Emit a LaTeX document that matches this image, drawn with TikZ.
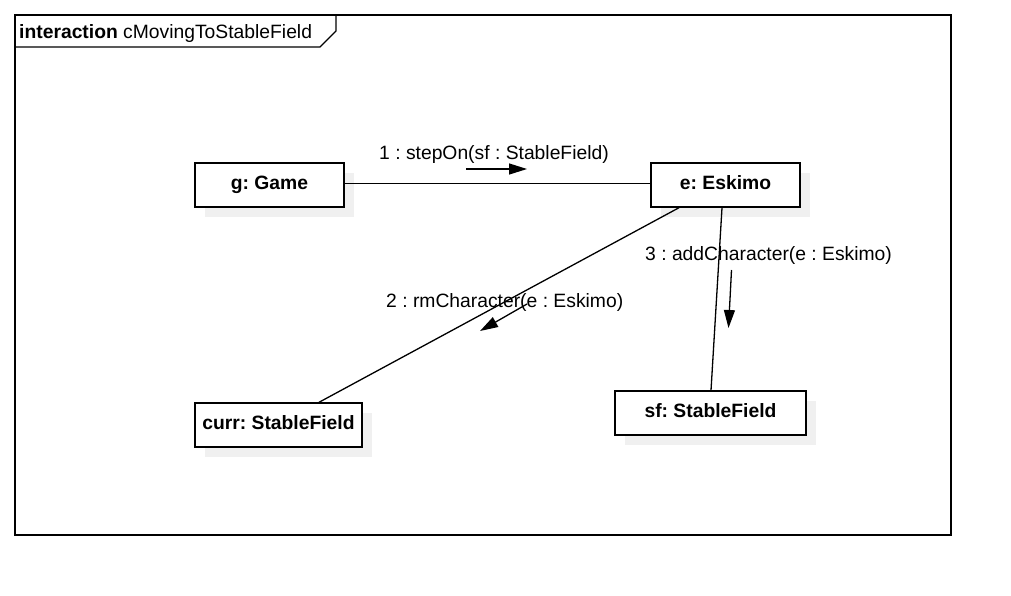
\documentclass[tikz,border=0pt]{standalone}
\usepackage{fontspec}
\setmainfont{Liberation Sans}
\usetikzlibrary{arrows.meta,calc}
\definecolor{shadowgray}{RGB}{240,240,240}
\frenchspacing
\begin{document}
\begin{tikzpicture}[x=1pt,y=-1pt,
  every node/.style={font=\fontsize{19.3}{22}\selectfont},
  obj/.style={draw=black,line width=1.4pt,fill=white,inner sep=0pt,
     font=\fontsize{19.3}{22}\selectfont\bfseries,text height=13.7pt,text depth=5pt},
  link/.style={line width=1.3pt},
  msg/.style={line width=1.3pt,-{Triangle[length=18pt,width=11pt]}},
  lbl/.style={anchor=base west,inner sep=0pt},
]
\useasboundingbox (0,0) rectangle (1011,595);
% frame
\draw[line width=1.4pt] (15,15) rectangle (951,535);
\draw[line width=1.4pt] (15,47) -- (320,47) -- (336,31) -- (336,15);
\node[lbl] (title) at (19,38.5) {\textbf{interaction} cMovingToStableField};
% shadows
\fill[shadowgray] (205,173) rectangle (354,217);
\fill[shadowgray] (661,173) rectangle (810,217);
\fill[shadowgray] (205,413) rectangle (372,457);
\fill[shadowgray] (625,401) rectangle (816,445);
% objects
\node[obj,minimum width=149pt,minimum height=44pt] (g) at (269.5,185) {g: Game};
\node[obj,minimum width=149pt,minimum height=44pt] (e) at (725.5,185) {e: Eskimo};
\node[obj,minimum width=167pt,minimum height=44pt] (curr) at (278.5,425) {curr: StableField};
\node[obj,minimum width=191pt,minimum height=44pt] (sf) at (710.5,413) {sf: StableField};
% links
\draw[link] ([yshift=1.5pt]g.east) -- ([yshift=1.5pt]e.west);
\draw[link] (e.south -| 679,0) -- (curr.north -| 319,0);
\draw[link] (e.south -| 722,0) -- (sf.north -| 711,0);
% messages
\coordinate (m1s) at (466,169);
\coordinate (m1e) at (527,169);
\draw[msg] (m1s) -- (m1e);
\node[lbl] (l1) at (379,159) {1 : stepOn(sf : StableField)};
\coordinate (m2s) at (527,304);
\coordinate (m2e) at (480,331);
\draw[msg] (m2s) -- (m2e);
\node[lbl] (l2) at (386,307) {2 : rmCharacter(e : Eskimo)};
\coordinate (m3s) at (731.5,270);
\coordinate (m3e) at (728.5,328);
\draw[msg] (m3s) -- (m3e);
\node[lbl] (l3) at (645,260) {3 : addCharacter(e : Eskimo)};
\end{tikzpicture}
\end{document}
